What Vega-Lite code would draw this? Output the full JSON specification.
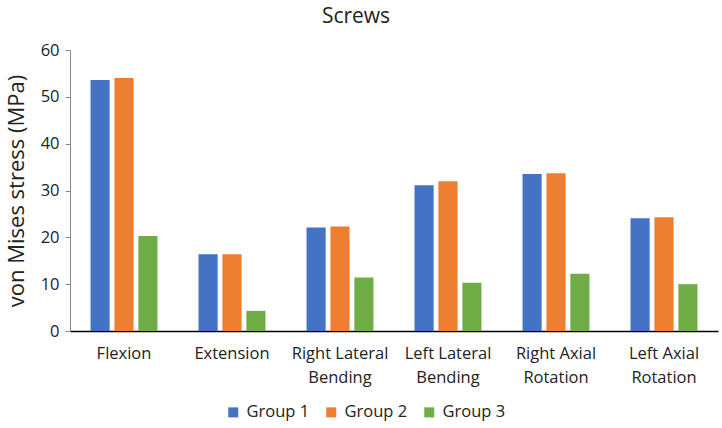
{
  "$schema": "https://vega.github.io/schema/vega-lite/v6.json",
  "autosize": "none",
  "padding": {"left": 70, "top": 50, "right": 4, "bottom": 97},
  "width": 648,
  "height": 281,
  "background": "white",
  "config": {
    "font": "Open Sans",
    "view": {"stroke": null}
  },
  "title": {
    "text": "Screws",
    "fontSize": 21,
    "fontWeight": "normal",
    "color": "#222222",
    "anchor": "middle",
    "dx": -38,
    "offset": 15
  },
  "data": {
    "values": [
      {"motion": "Flexion", "group": "Group 1", "stress": 53.6},
      {"motion": "Flexion", "group": "Group 2", "stress": 54.0},
      {"motion": "Flexion", "group": "Group 3", "stress": 20.3},
      {"motion": "Extension", "group": "Group 1", "stress": 16.4},
      {"motion": "Extension", "group": "Group 2", "stress": 16.4},
      {"motion": "Extension", "group": "Group 3", "stress": 4.3},
      {"motion": "Right Lateral Bending", "group": "Group 1", "stress": 22.1},
      {"motion": "Right Lateral Bending", "group": "Group 2", "stress": 22.3},
      {"motion": "Right Lateral Bending", "group": "Group 3", "stress": 11.4},
      {"motion": "Left Lateral Bending", "group": "Group 1", "stress": 31.1},
      {"motion": "Left Lateral Bending", "group": "Group 2", "stress": 32.0},
      {"motion": "Left Lateral Bending", "group": "Group 3", "stress": 10.3},
      {"motion": "Right Axial Rotation", "group": "Group 1", "stress": 33.5},
      {"motion": "Right Axial Rotation", "group": "Group 2", "stress": 33.7},
      {"motion": "Right Axial Rotation", "group": "Group 3", "stress": 12.2},
      {"motion": "Left Axial Rotation", "group": "Group 1", "stress": 24.1},
      {"motion": "Left Axial Rotation", "group": "Group 2", "stress": 24.3},
      {"motion": "Left Axial Rotation", "group": "Group 3", "stress": 10.0}
    ]
  },
  "mark": {"type": "bar"},
  "encoding": {
    "x": {
      "field": "motion",
      "type": "nominal",
      "sort": null,
      "scale": {"paddingInner": 0.38, "paddingOuter": 0.19},
      "axis": {
        "title": null,
        "labelAngle": 0,
        "labelFontSize": 16.5,
        "labelColor": "#222222",
        "labelPadding": 14,
        "labelLineHeight": 24,
        "ticks": false,
        "domainColor": "#000000",
        "domainWidth": 1.5,
        "labelExpr": "length(split(datum.label, ' ')) > 1 ? [slice(datum.label, 0, lastindexof(datum.label, ' ')), slice(datum.label, lastindexof(datum.label, ' ') + 1)] : datum.label"
      }
    },
    "xOffset": {
      "field": "group",
      "type": "nominal",
      "scale": {"paddingInner": 0.2, "paddingOuter": 0}
    },
    "y": {
      "field": "stress",
      "type": "quantitative",
      "scale": {"domain": [0, 60]},
      "axis": {
        "title": "von Mises stress (MPa)",
        "titleFontSize": 22,
        "titleFontWeight": "normal",
        "titleColor": "#222222",
        "titlePadding": 12,
        "values": [0, 10, 20, 30, 40, 50, 60],
        "labelFontSize": 16.5,
        "labelColor": "#222222",
        "labelPadding": 6,
        "grid": false,
        "tickSize": 5,
        "tickColor": "#888888",
        "domainColor": "#888888"
      }
    },
    "color": {
      "field": "group",
      "type": "nominal",
      "scale": {
        "domain": ["Group 1", "Group 2", "Group 3"],
        "range": ["#4472C4", "#ED7D31", "#70AD47"]
      },
      "legend": {
        "title": null,
        "orient": "none",
        "legendX": 155,
        "legendY": 354,
        "direction": "horizontal",
        "symbolType": "square",
        "symbolSize": 100,
        "symbolStrokeWidth": 0,
        "labelFontSize": 16.5,
        "labelColor": "#222222",
        "labelOffset": 5,
        "columnPadding": 13
      }
    }
  }
}
